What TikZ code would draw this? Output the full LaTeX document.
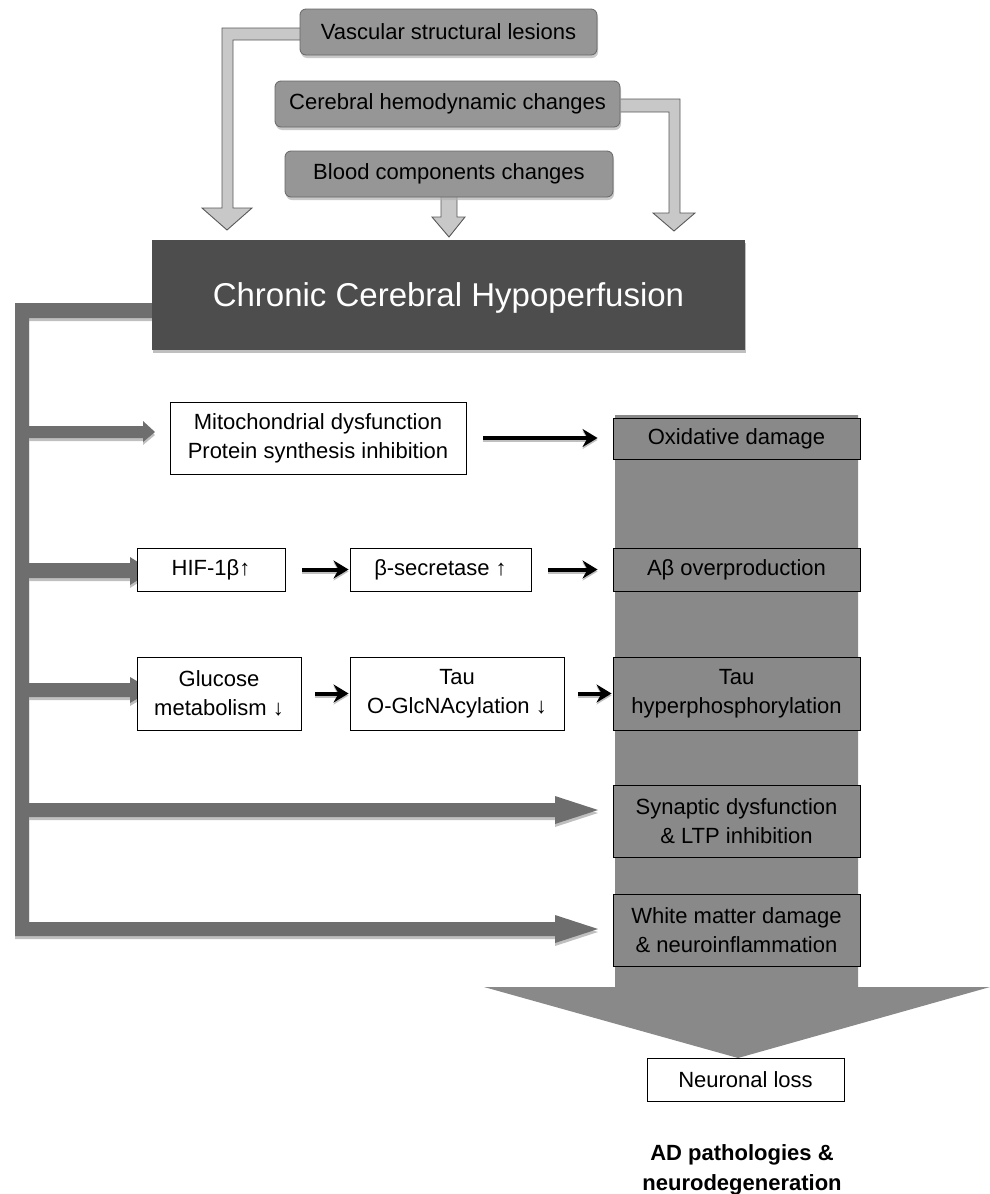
\documentclass[tikz,border=0pt]{standalone}
\usepackage{fontspec}
\setmainfont{Liberation Sans}
\usetikzlibrary{arrows.meta,shadows,backgrounds}
\definecolor{cTop}{RGB}{150,150,150}
\definecolor{cMain}{RGB}{77,77,77}
\definecolor{cBar}{RGB}{110,110,110}
\definecolor{cCol}{RGB}{137,137,137}
\definecolor{cBlock}{RGB}{200,200,200}
\begin{document}
\begin{tikzpicture}[x=1pt,y=-1pt,
  every node/.style={font=\fontsize{22}{29}\selectfont, inner sep=0pt, align=center},
  topbox/.style={draw=black!60, fill=cTop, rounded corners=6pt, line width=0.8pt,
    minimum width=#1, minimum height=46pt,
    drop shadow={shadow xshift=1pt,shadow yshift=-3pt,fill=black!30,opacity=0.7}},
  whitebox/.style={draw=black, fill=white, line width=0.9pt},
  colbox/.style={draw=black, fill=cCol, line width=0.9pt, minimum width=247pt},
  blk/.style={line width=4pt, -{Stealth[length=15pt,width=18pt,inset=5pt]},
    preaction={draw=black!25, line width=4pt, transform canvas={yshift=-2pt}}},
  blockarrow/.style={draw=black!65, fill=cBlock, line width=0.9pt, line join=miter},
  barstyle/.style={fill=cBar, drop shadow={shadow xshift=0pt,shadow yshift=-3pt,fill=black!25,opacity=1}},
]
\useasboundingbox (0,0) rectangle (990,1194);

% top boxes
\node[topbox=297pt] (vsl) at (448.5,32) {Vascular structural lesions};
\node[topbox=345pt] (chc) at (447.5,104) {Cerebral hemodynamic changes};
\node[topbox=328pt] (bcc) at (449,174) {Blood components changes};

% main box
\node[fill=cMain, minimum width=593pt, minimum height=110pt, text=white,
  font=\fontsize{33}{40}\selectfont, text depth=0pt,
  drop shadow={shadow xshift=1pt,shadow yshift=-3pt,fill=black!25,opacity=1}] (cch) at (448.5,295) {Chronic Cerebral Hypoperfusion};

% middle boxes
\node[whitebox, minimum width=296pt, minimum height=72pt] (mito) at (318,438) {Mitochondrial dysfunction\\Protein synthesis inhibition};
\node[whitebox, minimum width=148pt, minimum height=43pt] (hif) at (211,569.5) {HIF-1β↑};
\node[whitebox, minimum width=181pt, minimum height=43pt] (bsec) at (440.5,569.5) {β-secretase ↑};
\node[whitebox, minimum width=164pt, minimum height=73pt] (glu) at (219,693.5) {Glucose\\metabolism ↓};
\node[whitebox, minimum width=214pt, minimum height=73pt] (tau) at (457,693.5) {Tau\\O-GlcNAcylation ↓};

% right column boxes
\node[colbox, minimum height=41pt] (ox) at (736.5,438.5) {Oxidative damage};
\node[colbox, minimum height=43pt] (ab) at (736.5,569.5) {Aβ overproduction};
\node[colbox, minimum height=73pt] (tauh) at (736.5,693.5) {Tau\\hyperphosphorylation};
\node[colbox, minimum height=72pt] (syn) at (736.5,821) {Synaptic dysfunction\\\& LTP inhibition};
\node[colbox, minimum height=72pt] (wm) at (736.5,930) {White matter damage\\\& neuroinflammation};

\node[whitebox, minimum width=197pt, minimum height=43pt] (nl) at (745.5,1079.5) {Neuronal loss};
\node[font=\bfseries\fontsize{22}{30}\selectfont] (adp) at (742,1170) {AD pathologies \&\\neurodegeneration};

% black arrows
\draw[blk, shorten <=17pt, shorten >=15pt] (mito.east) -- (mito.east -| ox.west);
\draw[blk, shorten <=17pt, shorten >=1pt] (hif.east) -- (hif.east -| bsec.west);
\draw[blk, shorten <=17pt, shorten >=15pt] (bsec.east) -- (bsec.east -| ab.west);
\draw[blk, shorten <=14pt, shorten >=1pt] (glu.east) -- (glu.east -| tau.west);
\draw[blk, shorten <=14pt, shorten >=1pt] (tau.east) -- (tau.east -| tauh.west);

\begin{scope}[on background layer]
  % column with big arrow head
  \fill[cCol] (615,415) -- (858,415) -- (858,987) -- (990,987) -- (738,1058) -- (484,987) -- (615,987) -- cycle;
  % top block arrows
  \draw[blockarrow] (310,28) -- (222,28) -- (222,208) -- (202,208) -- (227,230) -- (252,208) -- (233,208) -- (233,40) -- (310,40) -- cycle;
  \draw[blockarrow] (610,99) -- (680,99) -- (680,213) -- (695,213) -- (674,231) -- (653,213) -- (669,213) -- (669,112) -- (610,112) -- cycle;
  \draw[blockarrow] (441,190) -- (457,190) -- (457,217) -- (465,217) -- (449,237) -- (432,217) -- (441,217) -- cycle;
  % left bar with bottom arrow
  \path[barstyle] (165,303) -- (15,303) -- (15,936) -- (555,936) -- (555,943) -- (598,929) -- (555,915) -- (555,922) -- (29,922) -- (29,318) -- (165,318) -- cycle;
  % branch arrows
  \path[barstyle] (29,426) -- (143,426) -- (143,421) -- (155,432) -- (143,442) -- (143,438) -- (29,438) -- cycle;
  \path[barstyle] (29,563) -- (130,563) -- (130,557) -- (152,571) -- (130,585) -- (130,578) -- (29,578) -- cycle;
  \path[barstyle] (29,683) -- (130,683) -- (130,677) -- (152,690) -- (130,703) -- (130,697) -- (29,697) -- cycle;
  \path[barstyle] (29,803) -- (555,803) -- (555,796) -- (598,810) -- (555,824) -- (555,817) -- (29,817) -- cycle;
\end{scope}
\end{tikzpicture}
\end{document}
